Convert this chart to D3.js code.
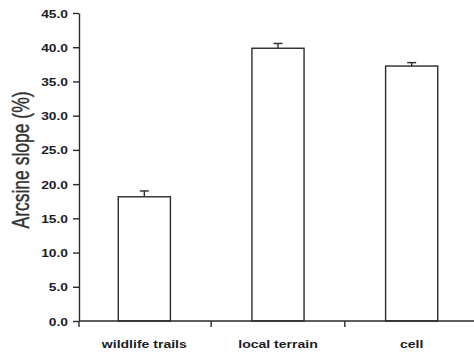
<!DOCTYPE html>
<html><head><meta charset="utf-8">
<script src="https://cdn.jsdelivr.net/npm/d3@7"></script>
<style>body{margin:0;background:#fff}svg{display:block}</style>
</head><body><svg id="c" width="474" height="353"></svg>
<script>
const categories = ["wildlife trails", "local terrain", "cell"];
const values = [18.15, 39.85, 37.25];
const errors = [0.85, 0.7, 0.5];
const yTicks = [0, 5, 10, 15, 20, 25, 30, 35, 40, 45];
const yTitle = "Arcsine slope (%)";

const svg = d3.select("#c");
const x = d3.scaleBand().domain(categories).range([77.5, 478.5]).paddingInner(0.61).paddingOuter(0.305);
const y = d3.scaleLinear().domain([0, 45]).range([321, 13]);
const axisX = 79, stroke = "#2a2a2a", sx = 1.3;

// bars
svg.selectAll("rect.bar").data(values).join("rect")
  .attr("x", (d,i) => x(categories[i])).attr("width", x.bandwidth())
  .attr("y", d => y(d)).attr("height", d => y(0) - y(d))
  .attr("fill", "#fff").attr("stroke", stroke).attr("stroke-width", 1.4);

// error bars
const eb = svg.append("g").attr("stroke", stroke).attr("stroke-width", 1.4);
values.forEach((v,i) => {
  const cx = x(categories[i]) + x.bandwidth()/2;
  eb.append("line").attr("x1", cx).attr("x2", cx).attr("y1", y(v)).attr("y2", y(v+errors[i]));
  eb.append("line").attr("x1", cx-4.5).attr("x2", cx+4.5).attr("y1", y(v+errors[i])).attr("y2", y(v+errors[i]));
});

// y axis
const ya = svg.append("g").attr("transform", `translate(${axisX},0)`)
  .call(d3.axisLeft(y).tickValues(yTicks).tickFormat(d3.format(".1f")).tickSize(6).tickSizeOuter(0));
ya.select(".domain").attr("stroke", stroke).attr("stroke-width", 1.4);
ya.selectAll(".tick line").attr("stroke", stroke).attr("stroke-width", 1.4);
ya.selectAll(".tick text").each(function(){
  const t = d3.select(this);
  t.attr("x", null).attr("dy", null).attr("text-anchor", "end")
   .attr("transform", `translate(-11,4) scale(${sx},1)`)
   .attr("font-family", "Liberation Sans, Arial, sans-serif").attr("font-weight", "bold")
   .attr("font-size", 10.6).attr("fill", "#1c1c28");
});

// x axis line
const xl = svg.append("g").attr("stroke", stroke).attr("stroke-width", 1.4);
xl.append("line").attr("x1", axisX).attr("x2", 474).attr("y1", y(0)).attr("y2", y(0));
const step = x.step();
const bounds = categories.map(c => x(c) + x.bandwidth()/2 + step/2);
bounds.forEach(b => xl.append("line").attr("x1", b).attr("x2", b).attr("y1", y(0)).attr("y2", y(0)+6));
xl.append("line").attr("x1", axisX).attr("x2", axisX).attr("y1", y(0)).attr("y2", y(0)+6);

// category labels
svg.selectAll("text.cat").data(categories).join("text")
  .attr("text-anchor", "middle")
  .attr("transform", d => `translate(${x(d)+x.bandwidth()/2},348) scale(${sx},1)`)
  .attr("font-family", "Liberation Sans, Arial, sans-serif").attr("font-weight", "bold")
  .attr("font-size", 10.8).attr("fill", "#1c1c28").text(d => d);

// y title
svg.append("text").attr("text-anchor", "middle")
  .attr("transform", `translate(29,160) scale(1.4,1) rotate(-90)`)
  .attr("font-family", "Liberation Sans, Arial, sans-serif")
  .attr("font-size", 17.5).attr("fill", "#333")
  .attr("stroke", "#333").attr("stroke-width", 0.3).text(yTitle);
</script></body></html>
